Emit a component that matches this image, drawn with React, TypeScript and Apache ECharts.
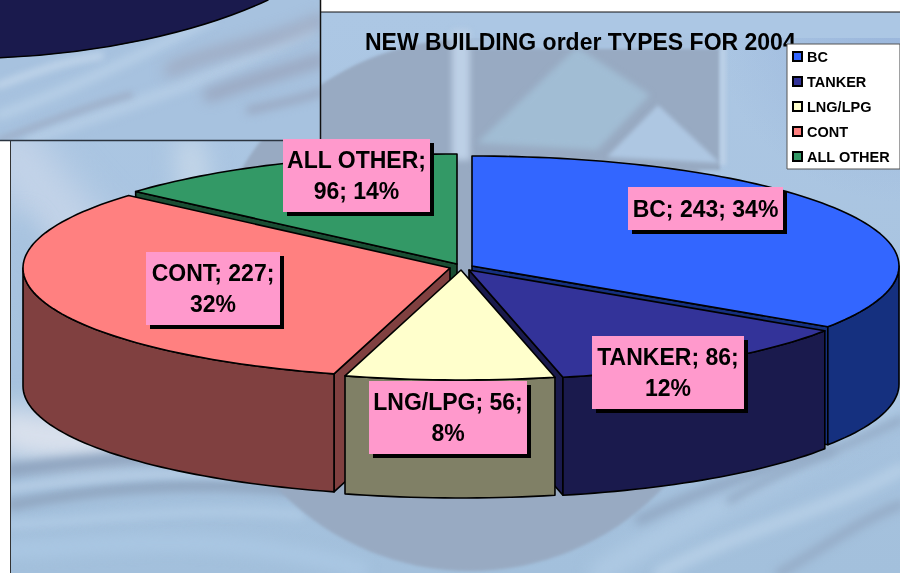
import React, { useEffect, useRef } from "react";
import * as echarts from "echarts";

// ---- data ----
const categories = ["BC", "TANKER", "LNG/LPG", "CONT", "ALL OTHER"];
const values = [243, 86, 56, 227, 96];
const titleText = "NEW BUILDING order TYPES FOR 2004";

// ---- layout / style ----
const W = 900;
const H = 573;
const topColors = ["#3366FF", "#333399", "#FFFFCC", "#FF8080", "#339966"];
const wallColors = ["#15307F", "#1A1A4D", "#808066", "#804040", "#1A4D33"];
const CX = 459, CY = 267, RX = 427, RY = 110, DEPTH = 118;
const explodeX = [13, 10, 2, -9, -2];
const explodeY = [-1, 3, 3, 1, -3];
const paintOrder = [4, 0, 3, 1, 2];
const labelFirstLine = [3, 2, 2, 2, 1];
const labelBoxes = [
  [628, 187, 155, 43],
  [592, 336, 152, 73],
  [369, 381, 158, 73],
  [146, 252, 134, 73],
  [283, 139, 147, 73],
];

const total = values.reduce((a, b) => a + b, 0);
const startAngles = values.map((_, i) => (values.slice(0, i).reduce((a, b) => a + b, 0) / total) * Math.PI * 2);
const endAngles = values.map((_, i) => (values.slice(0, i + 1).reduce((a, b) => a + b, 0) / total) * Math.PI * 2);

function labelText(i: number) {
  const parts = [categories[i] + ";", values[i] + ";", Math.round((values[i] / total) * 100) + "%"];
  const n = labelFirstLine[i];
  const a = parts.slice(0, n).join(" ");
  const b = parts.slice(n).join(" ");
  return b ? a + "\n" + b : a;
}

type Streak = [number, number, number, number, number, number, number, number, number, string, number];
const mainStreaks: Streak[] = [
  [11, 150, 60, 220, 130, 300, 230, 330, 60, "#c3d3e8", 18],
  [190, 150, 200, 200, 190, 260, 170, 320, 30, "#c4d6e8", 12],
  [20, 230, 40, 260, 30, 330, 20, 400, 24, "#a6c2de", 12],
  [11, 430, 60, 445, 130, 440, 240, 400, 46, "#dce2ed", 14],
  [11, 470, 80, 462, 170, 452, 260, 455, 14, "#8fa4bf", 5],
  [11, 505, 90, 490, 180, 480, 290, 490, 10, "#8ea3bd", 5],
  [11, 488, 80, 480, 150, 470, 230, 475, 8, "#b4cbe3", 3],
  [11, 525, 100, 520, 200, 505, 300, 515, 9, "#afcae4", 4],
  [11, 550, 120, 545, 230, 530, 360, 570, 18, "#a9c6e2", 6],
  [600, 573, 680, 520, 790, 480, 900, 400, 22, "#aec9e3", 8],
  [660, 573, 740, 530, 830, 510, 900, 470, 14, "#b4cde5", 5],
  [640, 520, 700, 490, 760, 470, 830, 450, 10, "#92a8c3", 5],
  [730, 500, 780, 470, 840, 450, 900, 420, 8, "#94abc6", 4],
  [780, 573, 820, 550, 860, 520, 900, 505, 10, "#96adc8", 4],
];
const insetStreaks: Streak[] = [
  [0, 115, 70, 90, 130, 60, 210, 20, 10, "#b6cee6", 4],
  [30, 140, 110, 110, 190, 90, 310, 30, 12, "#b4cce5", 4],
  [170, 70, 210, 50, 270, 45, 320, 20, 12, "#9ea9c0", 7],
  [210, 95, 250, 80, 290, 70, 320, 60, 14, "#9ba9c2", 6],
  [250, 110, 270, 105, 300, 100, 320, 92, 8, "#9aa9c2", 4],
  [0, 85, 40, 70, 70, 60, 100, 56, 8, "#bdd2e8", 3],
  [0, 140, 40, 125, 90, 105, 130, 95, 6, "#9eafc8", 3],
];

function paintStreaks(ctx: CanvasRenderingContext2D, list: Streak[]) {
  list.forEach(([x0, y0, a, b, c, d, x1, y1, lw, color, blur]) => {
    ctx.save();
    (ctx as any).filter = `blur(${blur}px)`;
    ctx.strokeStyle = color;
    ctx.lineWidth = lw;
    ctx.lineCap = "round";
    ctx.beginPath();
    ctx.moveTo(x0, y0);
    ctx.bezierCurveTo(a, b, c, d, x1, y1);
    ctx.stroke();
    ctx.restore();
  });
}

function poly(ctx: CanvasRenderingContext2D, pts: number[][], color: string, blur = 1.5) {
  ctx.save();
  (ctx as any).filter = `blur(${blur}px)`;
  ctx.fillStyle = color;
  ctx.beginPath();
  pts.forEach(([x, y], i) => (i ? ctx.lineTo(x, y) : ctx.moveTo(x, y)));
  ctx.closePath();
  ctx.fill();
  ctx.restore();
}

function makeBackground(): string {
  const cv = document.createElement("canvas");
  cv.width = W;
  cv.height = H;
  const ctx = cv.getContext("2d")!;
  ctx.fillStyle = "#fff";
  ctx.fillRect(0, 0, W, H);

  ctx.save();
  ctx.beginPath();
  ctx.rect(11, 12, W - 11, H - 12);
  ctx.clip();
  const g = ctx.createLinearGradient(0, 12, 0, H);
  g.addColorStop(0, "#acc7e4");
  g.addColorStop(0.5, "#a9c4e0");
  g.addColorStop(1, "#a3c0dc");
  ctx.fillStyle = g;
  ctx.fillRect(0, 0, W, H);
  const gr = ctx.createRadialGradient(900, 12, 10, 900, 12, 190);
  gr.addColorStop(0, "rgba(150,178,218,0.8)");
  gr.addColorStop(1, "rgba(150,178,218,0)");
  ctx.fillStyle = gr;
  ctx.fillRect(700, 12, 200, 200);
  paintStreaks(ctx, mainStreaks);

  ctx.save();
  (ctx as any).filter = "blur(1.5px)";
  ctx.fillStyle = "#98aac2";
  ctx.beginPath();
  ctx.arc(470, 305, 266, 0, Math.PI * 2);
  ctx.fill();
  ctx.restore();
  ctx.fillStyle = "#acc7e4";
  ctx.fillRect(470, 12, 430, 26);
  poly(ctx, [[470, 48], [720, 48], [720, 170], [470, 170]], "#98aac2");
  poly(ctx, [[452, 30], [470, 30], [470, 160], [452, 160]], "#bdd0e6", 3);
  poly(ctx, [[720, 38], [726, 38], [726, 165], [720, 165]], "#bcd0e6", 2);
  poly(ctx, [[477, 143], [577, 47], [650, 95], [597, 150]], "#a1bdd4", 3);
  poly(ctx, [[607, 157], [658, 105], [720, 163]], "#aec7e2", 2);
  poly(ctx, [[470, 38], [720, 38], [720, 48], [470, 48]], "#a9c3e0", 2);
  ctx.restore();

  ctx.save();
  ctx.beginPath();
  ctx.rect(0, 0, 320, 140);
  ctx.clip();
  ctx.fillStyle = "#a7c2df";
  ctx.fillRect(0, 0, 320, 140);
  paintStreaks(ctx, insetStreaks);
  ctx.restore();
  return cv.toDataURL("image/png");
}

echarts.graphic.registerShape(
  "insetEllipse",
  echarts.graphic.extendPath("M-4 -4 L270 -4 L268 0 C200 32 100 54 -4 58 Z", {}) as any
);

function pt(i: number, a: number, drop = 0) {
  return [
    CX + explodeX[i] + RX * Math.sin(a),
    CY + explodeY[i] - RY * Math.cos(a) + drop,
  ];
}

function arcPoints(i: number, a0: number, a1: number, drop = 0) {
  const n = Math.max(2, Math.ceil(((a1 - a0) / Math.PI) * 120));
  const out: number[][] = [];
  for (let k = 0; k <= n; k++) out.push(pt(i, a0 + ((a1 - a0) * k) / n, drop));
  return out;
}

function renderSlice(i: number) {
  const s = startAngles[i];
  const e = endAngles[i];
  const lw = 1.6;
  const apex = [CX + explodeX[i], CY + explodeY[i]];
  const children: any[] = [];
  const wall = { fill: wallColors[i], stroke: "#000", lineWidth: lw, lineJoin: "round" };
  const side = (a: number) => {
    const p = pt(i, a);
    return {
      type: "polygon",
      shape: { points: [apex, p, [p[0], p[1] + DEPTH], [apex[0], apex[1] + DEPTH]] },
      style: wall,
    };
  };
  if (-Math.sin(s) > 1e-6) children.push(side(s));
  if (Math.sin(e) > 1e-6) children.push(side(e));
  const a0 = Math.max(s, Math.PI / 2);
  const a1 = Math.min(e, (Math.PI * 3) / 2);
  if (a1 > a0) {
    children.push({
      type: "polygon",
      shape: { points: [...arcPoints(i, a0, a1), ...arcPoints(i, a0, a1, DEPTH).reverse()] },
      style: wall,
    });
  }
  children.push({
    type: "polygon",
    shape: { points: [apex, ...arcPoints(i, s, e)] },
    style: { fill: topColors[i], stroke: "#000", lineWidth: lw, lineJoin: "round" },
  });
  return { type: "group", children };
}

function renderLabel(i: number) {
  const [x, y, w, h] = labelBoxes[i];
  return {
    type: "group",
    children: [
      { type: "rect", shape: { x: x + 4, y: y + 4, width: w, height: h }, style: { fill: "#000" } },
      { type: "rect", shape: { x, y, width: w, height: h }, style: { fill: "#FF99CC" } },
      {
        type: "text",
        style: {
          x: x + w / 2,
          y: y + h / 2,
          text: labelText(i),
          fill: "#000",
          font: 'bold 23px "Liberation Sans", Arial, sans-serif',
          lineHeight: 31,
          align: "center",
          verticalAlign: "middle",
        },
      },
    ],
  };
}

export default function App() {
  const ref = useRef<HTMLDivElement>(null);
  useEffect(() => {
    const chart = echarts.init(ref.current!, undefined, { renderer: "svg" });
    const bg = makeBackground();
    const sliceSeries = paintOrder.map((i, k) => ({
      type: "custom",
      name: categories[i],
      coordinateSystem: "none",
      silent: true,
      z: 2 + k * 0.01,
      itemStyle: { color: topColors[i] },
      data: [[values[i]]],
      renderItem: () => renderSlice(i),
    }));
    chart.setOption({
      animation: false,
      title: {
        text: titleText,
        left: 365,
        top: 30,
        padding: 0,
        z: 3,
        textStyle: {
          fontFamily: '"Liberation Sans", Arial, sans-serif',
          fontWeight: "bold",
          fontSize: 23,
          color: "#000",
        },
      },
      legend: {
        orient: "vertical",
        left: 787,
        top: 44,
        z: 5,
        selectedMode: false,
        data: categories,
        icon: "rect",
        itemWidth: 9,
        itemHeight: 9,
        itemGap: 10,
        padding: [5, 10, 5, 5],
        backgroundColor: "#fff",
        borderColor: "#555",
        borderWidth: 1,
        itemStyle: { borderColor: "#000", borderWidth: 2 },
        textStyle: {
          fontFamily: '"Liberation Sans", Arial, sans-serif',
          fontWeight: "bold",
          fontSize: 14.5,
          lineHeight: 15,
          color: "#000",
        },
      },
      graphic: [
        { type: "image", z: 0, x: 0, y: 0, style: { image: bg, x: 0, y: 0, width: W, height: H }, silent: true },
        { type: "line", z: 0, shape: { x1: 321, y1: 12, x2: 900, y2: 12 }, style: { stroke: "#111", lineWidth: 1 } },
        { type: "line", z: 0, shape: { x1: 10.5, y1: 141, x2: 10.5, y2: 573 }, style: { stroke: "#333", lineWidth: 1 } },
        { type: "insetEllipse", z: 0, x: 0, y: 0, style: { fill: "#1A1A4D", stroke: "#000", lineWidth: 1.5 } },
        { type: "line", z: 0, shape: { x1: 320.5, y1: 0, x2: 320.5, y2: 141 }, style: { stroke: "#111", lineWidth: 1.5 } },
        { type: "line", z: 0, shape: { x1: 0, y1: 140.5, x2: 321, y2: 140.5 }, style: { stroke: "#2b3440", lineWidth: 1.5 } },
      ],
      series: [
        ...sliceSeries,
        {
          type: "custom",
          name: "labels",
          coordinateSystem: "none",
          silent: true,
          z: 3,
          data: values.map((v, i) => [v, i]),
          renderItem: (params: any) => renderLabel(params.dataIndex),
        },
      ],
    } as any);
    return () => chart.dispose();
  }, []);
  return <div ref={ref} style={{ position: "fixed", left: 0, top: 0, width: W, height: H }} />;
}
